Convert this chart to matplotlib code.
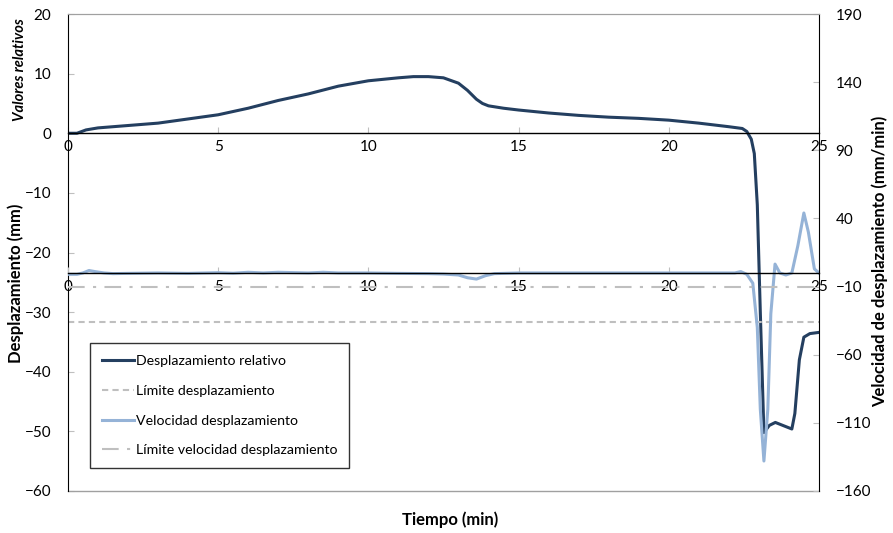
import numpy as np
import matplotlib.pyplot as plt

plt.rcParams['font.family'] = ['Lato', 'DejaVu Sans']

# tiempo (min) y desplazamiento relativo (mm)
t_desp = [0, 0.3, 0.6, 1.0, 2.0, 3.0, 4.0, 5.0, 6.0, 7.0, 8.0, 9.0, 10.0, 11.0, 11.5,
          12.0, 12.5, 13.0, 13.3, 13.6, 13.8, 14.0, 14.5, 15.0, 16.0, 17.0, 18.0, 19.0,
          20.0, 21.0, 22.0, 22.3, 22.45, 22.6, 22.75, 22.85, 22.95, 23.05, 23.17, 23.35,
          23.55, 23.8, 24.1, 24.2, 24.35, 24.5, 24.7, 25.0]
desp = [0, 0, 0.56, 0.9, 1.3, 1.7, 2.4, 3.1, 4.2, 5.5, 6.6, 7.9, 8.8, 9.3, 9.5,
        9.5, 9.3, 8.4, 7.2, 5.7, 5.0, 4.6, 4.2, 3.9, 3.4, 3.0, 2.7, 2.5,
        2.2, 1.7, 1.1, 0.9, 0.8, 0.3, -1.0, -3.4, -12, -30, -50.2, -49,
        -48.5, -49, -49.6, -47, -38, -34.2, -33.6, -33.4]

# velocidad de desplazamiento (mm/min)
t_vel = [0, 0.3, 0.5, 0.7, 0.9, 1.2, 1.5, 2, 3, 4, 5, 5.5, 6, 6.5, 7, 8, 8.5, 9, 10, 11,
         12, 12.5, 13.0, 13.3, 13.6, 13.9, 14.2, 15, 16, 18, 20, 22.2, 22.4, 22.6, 22.8,
         22.95, 23.05, 23.17, 23.3, 23.4, 23.54, 23.7, 23.9, 24.1, 24.3, 24.5, 24.65,
         24.85, 25]
vel = [-1, -1, 0, 1.8, 1.0, 0, -0.5, -0.3, 0, -0.3, 0.2, -0.2, 0.5, 0, 0.5, 0, 0.5, 0, 0, -0.3,
       -0.5, -0.8, -1.5, -3.5, -4.5, -2, -0.5, 0, 0, 0, 0, 0, 1, -1, -7.5,
       -40, -100, -138, -100, -30, 6.5, 0, -1.5, 0, 20, 44, 30,
       3, 0]

lim_desp = -31.7
lim_vel = -10

oscuro = '#243f60'
claro = '#95b3d7'
gris = '#bfbfbf'

fig = plt.figure(figsize=(8.93, 5.33), dpi=100)
ax1 = fig.add_axes([0.0761, 0.0788, 0.8409, 0.8949])
ax2 = ax1.twinx()

ax1.plot(t_desp, desp, color=oscuro, lw=2.2, label='Desplazamiento relativo')
ax1.axhline(lim_desp, color=gris, lw=1.5, ls=(0, (3, 2)), label='Límite desplazamiento')
ax2.plot(t_vel, vel, color=claro, lw=2.2, label='Velocidad desplazamiento')
ax2.axhline(lim_vel, color=gris, lw=1.5, ls=(0, (8, 4, 1.5, 4)), label='Límite velocidad desplazamiento')

ax1.set_xlim(0, 25)
ax1.set_ylim(-60, 20)
ax2.set_ylim(-160, 190)
ax1.set_yticks(np.arange(-60, 21, 10))
ax2.set_yticks(np.arange(-160, 191, 50))

# ejes x cruzando en cero
for ax in (ax1, ax2):
    ax.xaxis.set_visible(True)
    ax.spines['bottom'].set_position(('data', 0))
    ax.spines['bottom'].set_color('black')
    ax.spines['bottom'].set_linewidth(1)
    ax.spines['top'].set_color('#a0a0a0')
    ax.set_xticks(np.arange(0, 26, 5))
    ax.tick_params(axis='x', direction='in', length=4, color=gris, labelsize=11, pad=5)
    ax.tick_params(axis='y', direction='in', length=4, color=gris, labelsize=11, pad=12)
ax1.spines['right'].set_visible(False)
ax2.spines['left'].set_visible(False)
ax1.spines['left'].set_color('black')
ax2.spines['right'].set_color('black')
ax1.plot([0, 1], [0, 0], transform=ax1.transAxes, color='#a0a0a0', lw=1, clip_on=False)

fig.text(0.018, 0.469, 'Desplazamiento (mm)', fontsize=12, fontweight='bold',
         rotation=90, ha='center', va='center')
fig.text(0.985, 0.51, 'Velocidad de desplazamiento (mm/min)', fontsize=12, fontweight='bold',
         rotation=90, ha='center', va='center')
fig.text(0.504, 0.025, 'Tiempo (min)', fontsize=12, fontweight='bold', ha='center', va='center')
fig.text(0.022, 0.87, 'Valores relativos', fontsize=10.5, fontweight='bold', fontstyle='italic',
         rotation=90, ha='center', va='center')

h1, l1 = ax1.get_legend_handles_labels()
h2, l2 = ax2.get_legend_handles_labels()
leg = ax2.legend(h1 + h2, l1 + l2, loc='upper left', bbox_to_anchor=(0.029, 0.31),
                 borderaxespad=0, fontsize=10.2, frameon=True, fancybox=False,
                 edgecolor='black', labelspacing=1.25, handlelength=2.3,
                 handletextpad=0.1, borderpad=0.85)
leg.get_frame().set_linewidth(1)

fig.savefig('out.png', dpi=100)
